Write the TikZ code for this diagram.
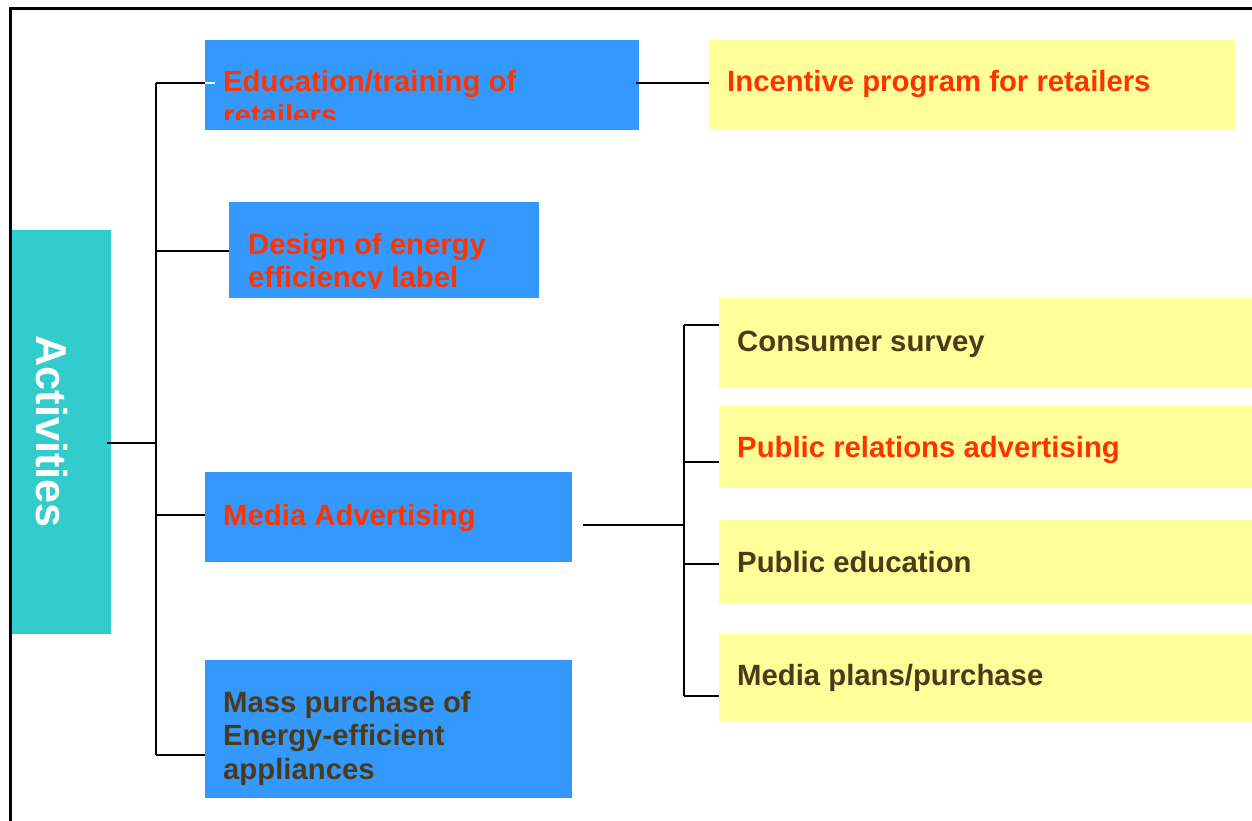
\documentclass[tikz,border=0pt]{standalone}
\usepackage{fontspec}
\setmainfont{Liberation Sans}
\definecolor{boxblue}{HTML}{3399FF}
\definecolor{boxyellow}{HTML}{FFFF99}
\definecolor{boxteal}{HTML}{33CCCC}
\definecolor{txtred}{HTML}{FF3300}
\definecolor{txtdark}{HTML}{4D3A1A}
\tikzset{
  bluebox/.style={fill=boxblue, draw=none, inner sep=0pt, anchor=north west},
  yelbox/.style={fill=boxyellow, draw=none, inner sep=0pt, anchor=north west},
  lbl/.style={inner sep=0pt, anchor=base west, font=\fontsize{29.3}{33.5}\selectfont\bfseries, align=left},
  conn/.style={line width=2pt, black},
}
\begin{document}
\begin{tikzpicture}[x=1pt,y=-1pt]
\useasboundingbox (0,0) rectangle (1252,821);
% frame
\draw[line width=3pt] (10,821) -- (10,9) -- (1252,9);
% Activities
\node[fill=boxteal, inner sep=0pt, anchor=north west, minimum width=99pt, minimum height=404pt] (act) at (12,230) {};
\node[inner sep=0pt, rotate=-90, text=white, font=\fontsize{43.2}{50}\selectfont\bfseries] (actlbl) at (51.5,431.5) {Activities};
% blue boxes
\node[bluebox, minimum width=434pt, minimum height=90pt] (edu) at (205,40) {};
\node[bluebox, minimum width=310pt, minimum height=96pt] (des) at (229,202) {};
\node[bluebox, minimum width=367pt, minimum height=90pt] (med) at (205,472) {};
\node[bluebox, minimum width=367pt, minimum height=138pt] (mass) at (205,660) {};
% yellow boxes
\node[yelbox, minimum width=526pt, minimum height=90pt] (inc) at (709,40) {};
\node[yelbox, minimum width=540pt, minimum height=89pt] (cons) at (719,298) {};
\node[yelbox, minimum width=540pt, minimum height=82pt] (pr) at (719,406) {};
\node[yelbox, minimum width=540pt, minimum height=83pt] (pe) at (719,520) {};
\node[yelbox, minimum width=540pt, minimum height=88pt] (mp) at (719,634) {};
% texts (clipped ones); multi-line nodes are placed by the baseline of their last line
\begin{scope}
\clip (205,40) rectangle (639,120);
\node[lbl, text=txtred] (edut) at (223,125.5) {Education/training of\\retailers};
\end{scope}
\begin{scope}
\clip (229,202) rectangle (539,288);
\node[lbl, text=txtred] (dest) at (248,287.5) {Design of energy\\efficiency label};
\end{scope}
\node[lbl, text=txtred] (medt) at (223,525) {Media Advertising};
\node[lbl, text=txtdark] (masst) at (223,779) {Mass purchase of\\Energy-efficient\\appliances};
\node[lbl, text=txtred] (inct) at (727,92) {Incentive program for retailers};
\node[lbl, text=txtdark] (const) at (737,351) {Consumer survey};
\node[lbl, text=txtred] (prt) at (737,457) {Public relations advertising};
\node[lbl, text=txtdark] (pet) at (737,572) {Public education};
\node[lbl, text=txtdark] (mpt) at (737,685) {Media plans/purchase};
% connector coordinates
\coordinate (tTop) at (156,83);
\coordinate (tBot) at (156,755);
\coordinate (tAct) at (156,443);
\coordinate (aOut) at (107,443);
\coordinate (tDes) at (156,251);
\coordinate (tMed) at (156,515);
\coordinate (eOut) at (636,83);
\coordinate (mOut) at (583,525);
\coordinate (bTop) at (684,325);
\coordinate (bBot) at (684,696);
\coordinate (bMid) at (684,525);
% connectors
\draw[conn] (tTop) -- (tBot);
\draw[conn] (aOut) -- (tAct);
\draw[conn] (tTop) -- (edu.west |- tTop);
\draw[white, line width=2pt] (edu.west |- tTop) -- ++(10,0);
\draw[conn] (tDes) -- (des.west |- tDes);
\draw[conn] (tMed) -- (med.west |- tMed);
\draw[conn] (tBot) -- (mass.west |- tBot);
\draw[conn] (eOut) -- (inc.west |- eOut);
\draw[conn] (mOut) -- (bMid);
\draw[conn] (bTop) -- (bBot);
\draw[conn] (bTop) -- (cons.west |- bTop);
\draw[conn] (684,462) -- (pr.west |- 684,462);
\draw[conn] (684,564) -- (pe.west |- 684,564);
\draw[conn] (bBot) -- (mp.west |- bBot);
\end{tikzpicture}
\end{document}
